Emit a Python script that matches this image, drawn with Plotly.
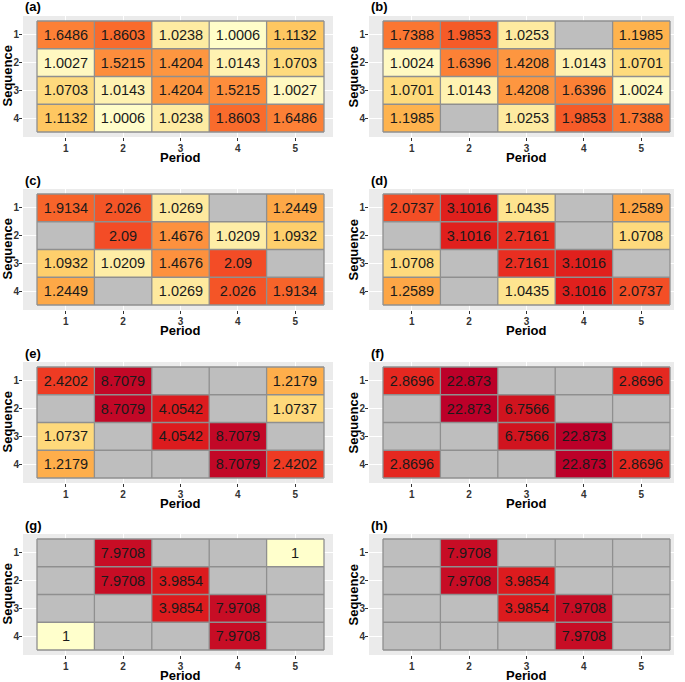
import numpy as np
import plotly.graph_objects as go

NA = None
periods = ["1", "2", "3", "4", "5"]
sequences = ["1", "2", "3", "4"]
panel_labels = ["(a)", "(b)", "(c)", "(d)", "(e)", "(f)", "(g)", "(h)"]

panel_a = [[1.6486, 1.8603, 1.0238, 1.0006, 1.1132],
           [1.0027, 1.5215, 1.4204, 1.0143, 1.0703],
           [1.0703, 1.0143, 1.4204, 1.5215, 1.0027],
           [1.1132, 1.0006, 1.0238, 1.8603, 1.6486]]
panel_b = [[1.7388, 1.9853, 1.0253, NA, 1.1985],
           [1.0024, 1.6396, 1.4208, 1.0143, 1.0701],
           [1.0701, 1.0143, 1.4208, 1.6396, 1.0024],
           [1.1985, NA, 1.0253, 1.9853, 1.7388]]
panel_c = [[1.9134, 2.026, 1.0269, NA, 1.2449],
           [NA, 2.09, 1.4676, 1.0209, 1.0932],
           [1.0932, 1.0209, 1.4676, 2.09, NA],
           [1.2449, NA, 1.0269, 2.026, 1.9134]]
panel_d = [[2.0737, 3.1016, 1.0435, NA, 1.2589],
           [NA, 3.1016, 2.7161, NA, 1.0708],
           [1.0708, NA, 2.7161, 3.1016, NA],
           [1.2589, NA, 1.0435, 3.1016, 2.0737]]
panel_e = [[2.4202, 8.7079, NA, NA, 1.2179],
           [NA, 8.7079, 4.0542, NA, 1.0737],
           [1.0737, NA, 4.0542, 8.7079, NA],
           [1.2179, NA, NA, 8.7079, 2.4202]]
panel_f = [[2.8696, 22.873, NA, NA, 2.8696],
           [NA, 22.873, 6.7566, NA, NA],
           [NA, NA, 6.7566, 22.873, NA],
           [2.8696, NA, NA, 22.873, 2.8696]]
panel_g = [[NA, 7.9708, NA, NA, 1],
           [NA, 7.9708, 3.9854, NA, NA],
           [NA, NA, 3.9854, 7.9708, NA],
           [1, NA, NA, 7.9708, NA]]
panel_h = [[NA, 7.9708, NA, NA, NA],
           [NA, 7.9708, 3.9854, NA, NA],
           [NA, NA, 3.9854, 7.9708, NA],
           [NA, NA, NA, 7.9708, NA]]
panels = [panel_a, panel_b, panel_c, panel_d, panel_e, panel_f, panel_g, panel_h]

# colour palette anchors (value -> colour), YlOrRd-like
pal_vals = [1.0, 1.003, 1.014, 1.025, 1.043, 1.072, 1.11, 1.2, 1.25, 1.44, 1.52,
            1.65, 1.86, 1.99, 2.09, 2.42, 2.87, 3.1, 4.0, 6.76, 7.97, 8.7, 22.873]
pal_cols = ["#FFFFCC", "#FFF8C0", "#FFF2B2", "#FEEAA0", "#FEE48F", "#FEDA7C", "#FEC862",
            "#FEB34E", "#FDA746", "#FD943F", "#FD8D3C", "#FC8036", "#F96B2C", "#F55A28",
            "#F34C26", "#EE3B23", "#E52820", "#E0201D", "#DC1B1E", "#D0141F", "#C70D25",
            "#C20827", "#BC0029"]

def tf(v):
    return np.log10(np.asarray(v, dtype=float) - 1 + 0.002)

zmin, zmax = float(tf(pal_vals[0])), float(tf(pal_vals[-1]))
colorscale = [[(float(tf(v)) - zmin) / (zmax - zmin), c] for v, c in zip(pal_vals, pal_cols)]
colorscale[0][0] = 0.0
colorscale[-1][0] = 1.0

W, H = 685, 682
FONT = "Liberation Sans, Arial, sans-serif"
col_tile_x = [(37, 324), (383, 670)]
col_grey_x = [(23, 333), (369, 674)]
row_tile_top = [21, 194, 367, 539]
tile_h = 111
pad = 5

fig = go.Figure()
layout = dict(width=W, height=H, margin=dict(l=0, r=0, t=0, b=0, autoexpand=False),
              paper_bgcolor="white", plot_bgcolor="#EBEBEB", showlegend=False,
              font=dict(family=FONT), template="none")
annotations = []

nx, ny = len(periods), len(sequences)
xs = list(range(1, nx + 1))
ys = list(range(1, ny + 1))

for i, data in enumerate(panels):
    r, c = divmod(i, 2)
    sfx = "" if i == 0 else str(i + 1)
    xa, ya = "x" + sfx, "y" + sfx
    arr = np.array([[np.nan if v is None else v for v in row] for row in data], dtype=float)
    z = np.where(np.isnan(arr), np.nan, tf(np.nan_to_num(arr, nan=1.0)))
    txt = [["" if v is None else f"{v:.5g}" for v in row] for row in data]
    na_z = np.where(np.isnan(arr), 1.0, np.nan)

    fig.add_trace(go.Heatmap(x=xs, y=ys, z=na_z, colorscale=[[0, "#BEBEBE"], [1, "#BEBEBE"]],
                             showscale=False, xaxis=xa, yaxis=ya, hoverinfo="skip"))
    fig.add_trace(go.Heatmap(x=xs, y=ys, z=z, zmin=zmin, zmax=zmax, colorscale=colorscale,
                             showscale=False, text=txt, texttemplate="%{text}",
                             textfont=dict(size=14.5, color="#1A1A1A", family=FONT),
                             xaxis=xa, yaxis=ya, hoverinfo="skip"))
    # tile borders
    bx, by = [], []
    for k in range(nx + 1):
        bx += [k + 0.5, k + 0.5, None]
        by += [0.5, ny + 0.5, None]
    for k in range(ny + 1):
        bx += [0.5, nx + 0.5, None]
        by += [k + 0.5, k + 0.5, None]
    fig.add_trace(go.Scatter(x=bx, y=by, mode="lines", line=dict(color="#8F8F8F", width=1.3),
                             xaxis=xa, yaxis=ya, hoverinfo="skip"))

    tx0, tx1 = col_tile_x[c]
    gx0, gx1 = col_grey_x[c]
    ux = (tx1 - tx0) / nx
    ty0 = row_tile_top[r]
    ty1 = ty0 + tile_h
    gy0, gy1 = ty0 - pad, ty1 + pad
    uy = tile_h / ny
    axis_common = dict(showgrid=True, gridcolor="white", gridwidth=1.1, zeroline=False,
                       ticks="outside", ticklen=3, tickcolor="#333333", tickwidth=1,
                       showline=False, automargin=False,
                       tickfont=dict(size=10, color="#333333", family=FONT, weight="bold"))
    layout["xaxis" + sfx] = dict(axis_common, domain=[gx0 / W, gx1 / W],
                                 range=[0.5 - (tx0 - gx0) / ux, nx + 0.5 + (gx1 - tx1) / ux],
                                 tickvals=xs, ticktext=periods, anchor=ya, ticklabelstandoff=-1)
    layout["yaxis" + sfx] = dict(axis_common, domain=[1 - gy1 / H, 1 - gy0 / H],
                                 range=[ny + 0.5 + pad / uy, 0.5 - pad / uy],
                                 tickvals=ys, ticktext=sequences, anchor=xa, ticklabelstandoff=-2)

    annotations.append(dict(text="<b>" + panel_labels[i] + "</b>", x=gx0 / W, y=1 - (gy0 - 9) / H,
                            xref="paper", yref="paper", xanchor="left", yanchor="middle",
                            showarrow=False, font=dict(size=13, color="black", family=FONT)))
    annotations.append(dict(text="<b>Period</b>", x=(tx0 + tx1) / 2 / W, y=1 - (gy1 + 20) / H,
                            xref="paper", yref="paper", xanchor="center", yanchor="middle",
                            showarrow=False, font=dict(size=13, color="black", family=FONT)))
    annotations.append(dict(text="<b>Sequence</b>", x=(gx0 - 16) / W, y=1 - (ty0 + ty1) / 2 / H,
                            xref="paper", yref="paper", xanchor="center", yanchor="middle",
                            textangle=-90, showarrow=False,
                            font=dict(size=13, color="black", family=FONT)))

layout["annotations"] = annotations
fig.update_layout(**layout)
fig.write_html("out.html", config={"displayModeBar": False},
               post_script="document.body.style.margin='0';document.body.style.overflow='hidden';")
